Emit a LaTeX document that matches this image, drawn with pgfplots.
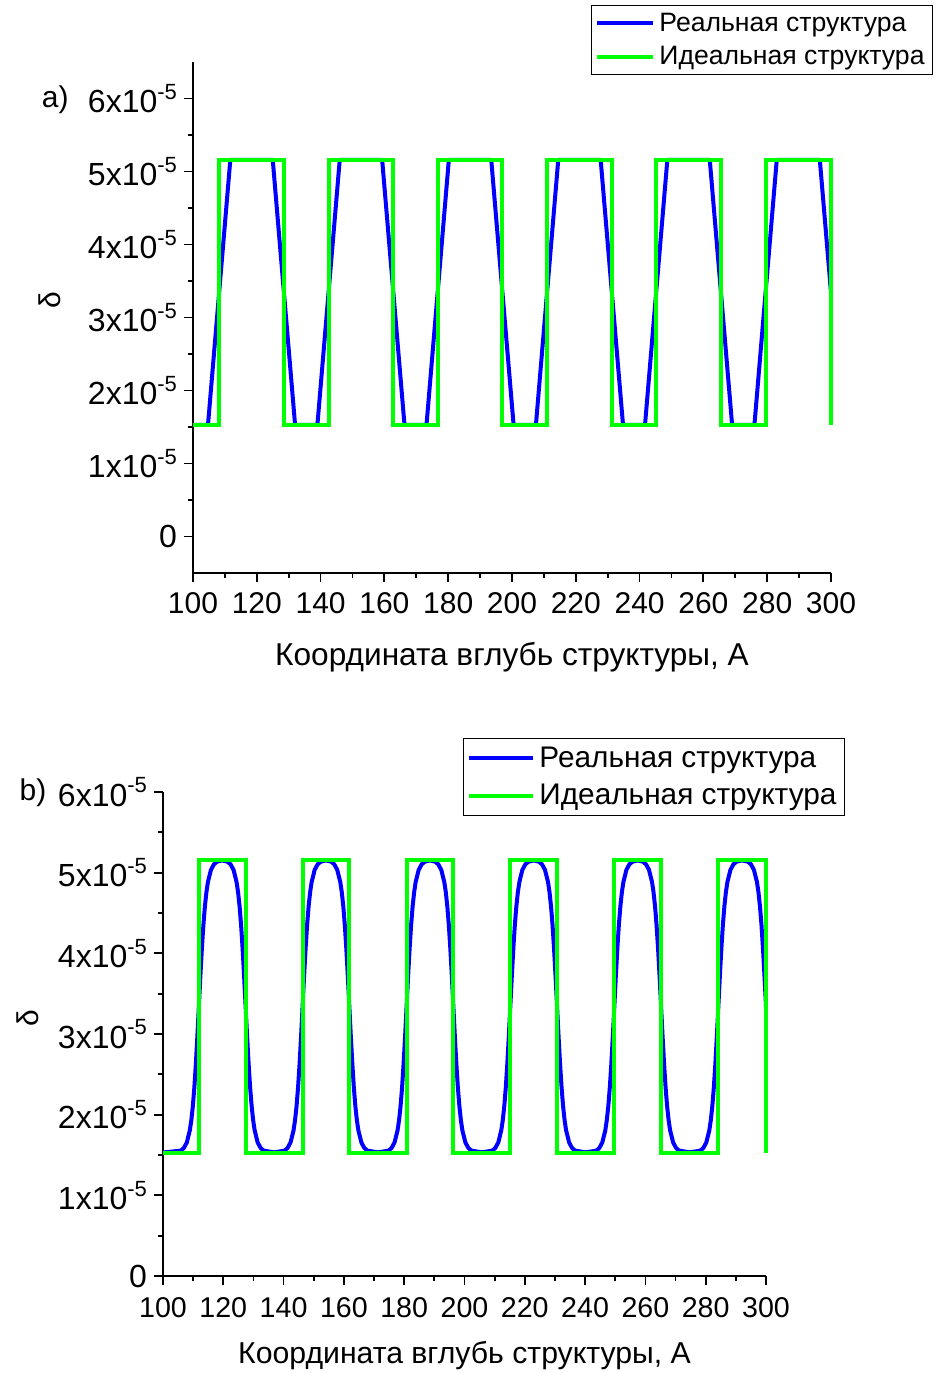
\documentclass[border=0pt]{standalone}
\usepackage{pgfplots}
\pgfplotsset{compat=1.18}
\usepackage{fontspec}
\setmainfont{Liberation Sans}
\definecolor{myblue}{RGB}{0,0,255}
\definecolor{mygreen}{RGB}{0,255,0}
\newcommand{\ex}{\raisebox{0.42em}{\fontsize{11}{12}\selectfont -5}}
\pgfplotsset{
  common/.style={
    scale only axis, anchor=south west, clip=false,
    xmin=100, xmax=300,
    axis lines=left, axis line style={-, line width=0.9pt},
    tick align=outside, major tick length=4.5pt, minor tick length=2.5pt,
    every tick/.style={black, line width=0.9pt},
    xtick={100,120,...,300}, minor x tick num=1,
    ytick={0,1e-5,2e-5,3e-5,4e-5,5e-5,6e-5}, minor y tick num=1,
    yticklabels={0,1x10\ex,2x10\ex,3x10\ex,4x10\ex,5x10\ex,6x10\ex},
    scaled y ticks=false,
    /pgf/number format/assume math mode=true,
    /pgf/number format/1000 sep={},
    legend cell align=left,
    legend image code/.code={\draw[#1] (0pt,0pt) -- (28pt,0pt);},
  },
  realst/.style={myblue, line width=2pt, line join=round},
  idealst/.style={mygreen, line width=2pt, line join=miter},
}
\begin{document}
\begin{tikzpicture}
\path[use as bounding box] (0,0) rectangle (468pt,686.5pt);
% ---------------- (a)
\begin{axis}[common,
  at={(96.5pt,400pt)}, width=319pt, height=255.5pt,
  ymin=-0.5e-5, ymax=6.5e-5,
  xticklabel style={font=\fontsize{15}{18}\selectfont, yshift=-1.8pt},
  yticklabel style={font=\fontsize{16}{18}\selectfont},
  xlabel={Координата вглубь структуры, А},
  xlabel style={font=\fontsize{15.8}{18}\selectfont, at={(axis description cs:0.5,-0.164)}, anchor=center},
  ylabel={δ},
  ylabel style={font=\fontsize{15}{18}\selectfont, at={(axis description cs:-0.224,0.534)}, anchor=center},
  legend style={draw=black, line width=0.5pt, font=\fontsize{13.3}{16}\selectfont,
    at={(axis description cs:1.16,1.111)}, anchor=north east, inner xsep=2pt, inner ysep=1.5pt,
    /tikz/every even column/.append style={column sep=0pt}, row sep=2pt},
]
\addplot[realst] coordinates {
(100,1.53e-5)(104.7,1.53e-5)(108.2,3.345e-5)(111.7,5.16e-5)(125.0,5.16e-5)(128.5,3.345e-5)(132.0,1.53e-5)
(139.0,1.53e-5)(142.5,3.345e-5)(146.0,5.16e-5)(159.3,5.16e-5)(162.8,3.345e-5)(166.3,1.53e-5)
(173.2,1.53e-5)(176.7,3.345e-5)(180.2,5.16e-5)(193.5,5.16e-5)(197.0,3.345e-5)(200.5,1.53e-5)
(207.5,1.53e-5)(211.0,3.345e-5)(214.5,5.16e-5)(227.8,5.16e-5)(231.3,3.345e-5)(234.8,1.53e-5)
(241.7,1.53e-5)(245.2,3.345e-5)(248.7,5.16e-5)(262.0,5.16e-5)(265.5,3.345e-5)(269.0,1.53e-5)
(276.0,1.53e-5)(279.5,3.345e-5)(283.0,5.16e-5)(296.5,5.16e-5)(300,3.345e-5)
};
\addlegendentry{Реальная структура}
\addplot[idealst] coordinates {
(100,1.53e-5)(108.2,1.53e-5)(108.2,5.16e-5)(128.5,5.16e-5)(128.5,1.53e-5)
(142.5,1.53e-5)(142.5,5.16e-5)(162.8,5.16e-5)(162.8,1.53e-5)
(176.7,1.53e-5)(176.7,5.16e-5)(197.0,5.16e-5)(197.0,1.53e-5)
(211.0,1.53e-5)(211.0,5.16e-5)(231.3,5.16e-5)(231.3,1.53e-5)
(245.2,1.53e-5)(245.2,5.16e-5)(265.5,5.16e-5)(265.5,1.53e-5)
(279.5,1.53e-5)(279.5,5.16e-5)(300,5.16e-5)(300,1.53e-5)
};
\addlegendentry{Идеальная структура}
\node[font=\fontsize{15}{18}\selectfont] at (axis description cs:-0.216,0.926) {a)};
\end{axis}
% ---------------- (b)
\begin{axis}[common,
  at={(81.5pt,48.5pt)}, width=301.5pt, height=242pt,
  ymin=0, ymax=6e-5,
  yticklabel style={font=\fontsize{16}{18}\selectfont},
  xticklabel style={font=\fontsize{14.3}{16}\selectfont, yshift=-2.5pt},
  xlabel={Координата вглубь структуры, А},
  xlabel style={font=\fontsize{15.1}{18}\selectfont, at={(axis description cs:0.5,-0.165)}, anchor=center},
  ylabel={δ},
  ylabel style={font=\fontsize{15}{18}\selectfont, at={(axis description cs:-0.224,0.533)}, anchor=center},
  legend style={draw=black, line width=0.5pt, font=\fontsize{14.9}{18}\selectfont,
    at={(axis description cs:1.131,1.1116)}, anchor=north east, inner xsep=2pt, inner ysep=2pt, row sep=3pt},
  legend image code/.code={\draw[#1] (0pt,0pt) -- (32pt,0pt);},
]
\addplot[realst] coordinates {
(100,1.531e-5)
(105.9,1.554e-5)(106.9,1.586e-5)(107.9,1.655e-5)(108.9,1.806e-5)(109.4,1.932e-5)(109.9,2.107e-5)(110.4,2.338e-5)(110.9,2.630e-5)(111.4,2.972e-5)(111.9,3.345e-5)(112.4,3.718e-5)(112.9,4.060e-5)(113.4,4.352e-5)(113.9,4.583e-5)(114.4,4.758e-5)(114.9,4.884e-5)(115.9,5.035e-5)(116.9,5.104e-5)(117.9,5.136e-5)
(119.65,5.152e-5)
(121.4,5.136e-5)(122.4,5.104e-5)(123.4,5.035e-5)(124.4,4.884e-5)(124.9,4.758e-5)(125.4,4.583e-5)(125.9,4.352e-5)(126.4,4.060e-5)(126.9,3.718e-5)(127.4,3.345e-5)(127.9,2.972e-5)(128.4,2.630e-5)(128.9,2.338e-5)(129.4,2.107e-5)(129.9,1.932e-5)(130.4,1.806e-5)(131.4,1.655e-5)(132.4,1.586e-5)(133.4,1.554e-5)
(136.85,1.533e-5)
(140.3,1.554e-5)(141.3,1.586e-5)(142.3,1.655e-5)(143.3,1.806e-5)(143.8,1.932e-5)(144.3,2.107e-5)(144.8,2.338e-5)(145.3,2.630e-5)(145.8,2.972e-5)(146.3,3.345e-5)(146.8,3.718e-5)(147.3,4.060e-5)(147.8,4.352e-5)(148.3,4.583e-5)(148.8,4.758e-5)(149.3,4.884e-5)(150.3,5.035e-5)(151.3,5.104e-5)(152.3,5.136e-5)
(154.05,5.152e-5)
(155.8,5.136e-5)(156.8,5.104e-5)(157.8,5.035e-5)(158.8,4.884e-5)(159.3,4.758e-5)(159.8,4.583e-5)(160.3,4.352e-5)(160.8,4.060e-5)(161.3,3.718e-5)(161.8,3.345e-5)(162.3,2.972e-5)(162.8,2.630e-5)(163.3,2.338e-5)(163.8,2.107e-5)(164.3,1.932e-5)(164.8,1.806e-5)(165.8,1.655e-5)(166.8,1.586e-5)(167.8,1.554e-5)
(171.3,1.533e-5)
(174.8,1.554e-5)(175.8,1.586e-5)(176.8,1.655e-5)(177.8,1.806e-5)(178.3,1.932e-5)(178.8,2.107e-5)(179.3,2.338e-5)(179.8,2.630e-5)(180.3,2.972e-5)(180.8,3.345e-5)(181.3,3.718e-5)(181.8,4.060e-5)(182.3,4.352e-5)(182.8,4.583e-5)(183.3,4.758e-5)(183.8,4.884e-5)(184.8,5.035e-5)(185.8,5.104e-5)(186.8,5.136e-5)
(188.55,5.152e-5)
(190.3,5.136e-5)(191.3,5.104e-5)(192.3,5.035e-5)(193.3,4.884e-5)(193.8,4.758e-5)(194.3,4.583e-5)(194.8,4.352e-5)(195.3,4.060e-5)(195.8,3.718e-5)(196.3,3.345e-5)(196.8,2.972e-5)(197.3,2.630e-5)(197.8,2.338e-5)(198.3,2.107e-5)(198.8,1.932e-5)(199.3,1.806e-5)(200.3,1.655e-5)(201.3,1.586e-5)(202.3,1.554e-5)
(205.75,1.533e-5)
(209.2,1.554e-5)(210.2,1.586e-5)(211.2,1.655e-5)(212.2,1.806e-5)(212.7,1.932e-5)(213.2,2.107e-5)(213.7,2.338e-5)(214.2,2.630e-5)(214.7,2.972e-5)(215.2,3.345e-5)(215.7,3.718e-5)(216.2,4.060e-5)(216.7,4.352e-5)(217.2,4.583e-5)(217.7,4.758e-5)(218.2,4.884e-5)(219.2,5.035e-5)(220.2,5.104e-5)(221.2,5.136e-5)
(222.95,5.152e-5)
(224.7,5.136e-5)(225.7,5.104e-5)(226.7,5.035e-5)(227.7,4.884e-5)(228.2,4.758e-5)(228.7,4.583e-5)(229.2,4.352e-5)(229.7,4.060e-5)(230.2,3.718e-5)(230.7,3.345e-5)(231.2,2.972e-5)(231.7,2.630e-5)(232.2,2.338e-5)(232.7,2.107e-5)(233.2,1.932e-5)(233.7,1.806e-5)(234.7,1.655e-5)(235.7,1.586e-5)(236.7,1.554e-5)
(240.2,1.533e-5)
(243.7,1.554e-5)(244.7,1.586e-5)(245.7,1.655e-5)(246.7,1.806e-5)(247.2,1.932e-5)(247.7,2.107e-5)(248.2,2.338e-5)(248.7,2.630e-5)(249.2,2.972e-5)(249.7,3.345e-5)(250.2,3.718e-5)(250.7,4.060e-5)(251.2,4.352e-5)(251.7,4.583e-5)(252.2,4.758e-5)(252.7,4.884e-5)(253.7,5.035e-5)(254.7,5.104e-5)(255.7,5.136e-5)
(257.45,5.152e-5)
(259.2,5.136e-5)(260.2,5.104e-5)(261.2,5.035e-5)(262.2,4.884e-5)(262.7,4.758e-5)(263.2,4.583e-5)(263.7,4.352e-5)(264.2,4.060e-5)(264.7,3.718e-5)(265.2,3.345e-5)(265.7,2.972e-5)(266.2,2.630e-5)(266.7,2.338e-5)(267.2,2.107e-5)(267.7,1.932e-5)(268.2,1.806e-5)(269.2,1.655e-5)(270.2,1.586e-5)(271.2,1.554e-5)
(274.7,1.533e-5)
(278.2,1.554e-5)(279.2,1.586e-5)(280.2,1.655e-5)(281.2,1.806e-5)(281.7,1.932e-5)(282.2,2.107e-5)(282.7,2.338e-5)(283.2,2.630e-5)(283.7,2.972e-5)(284.2,3.345e-5)(284.7,3.718e-5)(285.2,4.060e-5)(285.7,4.352e-5)(286.2,4.583e-5)(286.7,4.758e-5)(287.2,4.884e-5)(288.2,5.035e-5)(289.2,5.104e-5)(290.2,5.136e-5)
(292.1,5.152e-5)
(294.0,5.136e-5)(295.0,5.104e-5)(296.0,5.035e-5)(297.0,4.884e-5)(297.5,4.758e-5)(298.0,4.583e-5)(298.5,4.352e-5)(299.0,4.060e-5)(299.5,3.718e-5)(300,3.345e-5)
};
\addlegendentry{Реальная структура}
\addplot[idealst] coordinates {
(100,1.53e-5)(111.9,1.53e-5)(111.9,5.16e-5)(127.4,5.16e-5)(127.4,1.53e-5)
(146.3,1.53e-5)(146.3,5.16e-5)(161.8,5.16e-5)(161.8,1.53e-5)
(180.8,1.53e-5)(180.8,5.16e-5)(196.3,5.16e-5)(196.3,1.53e-5)
(215.2,1.53e-5)(215.2,5.16e-5)(230.7,5.16e-5)(230.7,1.53e-5)
(249.7,1.53e-5)(249.7,5.16e-5)(265.2,5.16e-5)(265.2,1.53e-5)
(284.2,1.53e-5)(284.2,5.16e-5)(300,5.16e-5)(300,1.53e-5)
};
\addlegendentry{Идеальная структура}
\node[font=\fontsize{15}{18}\selectfont] at (axis description cs:-0.2156,0.998) {b)};
\end{axis}
\end{tikzpicture}
\end{document}
